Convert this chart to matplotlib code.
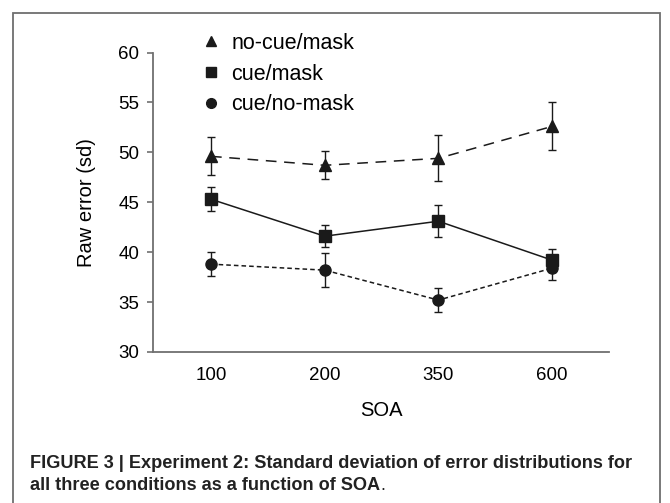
import matplotlib
matplotlib.use("Agg")
import matplotlib.pyplot as plt
from matplotlib.lines import Line2D
from matplotlib.patches import Rectangle

# ---- data ----
soa_labels = ["100", "200", "350", "600"]
nocue_mask = [49.6, 48.7, 49.4, 52.6]
nocue_mask_err = [1.9, 1.4, 2.3, 2.4]
cue_mask = [45.3, 41.6, 43.1, 39.2]
cue_mask_err = [1.2, 1.1, 1.6, 1.15]
cue_nomask = [38.8, 38.2, 35.2, 38.4]
cue_nomask_err = [1.2, 1.7, 1.2, 1.15]
series_names = ["no-cue/mask", "cue/mask", "cue/no-mask"]

plt.rcParams['font.family'] = ['Liberation Sans', 'DejaVu Sans']

W, H = 670, 503
fig = plt.figure(figsize=(W/100, H/100), dpi=100)
ax = fig.add_axes([153/W, 1-352/H, (609-153)/W, (352-52.5)/H])

x = list(range(len(soa_labels)))
col = '#1a1a1a'
styles = [
    (nocue_mask, nocue_mask_err, '^', (0, (7, 5))),
    (cue_mask, cue_mask_err, 's', '-'),
    (cue_nomask, cue_nomask_err, 'o', (0, (3, 2))),
]
handles = []
for (vals, errs, mk, ls), name in zip(styles, series_names):
    ax.errorbar(x, vals, yerr=errs, fmt=mk, linestyle=ls, color=col,
                markersize=8, linewidth=1.1, elinewidth=1.0,
                capsize=3, capthick=1.0)
    handles.append(Line2D([], [], marker=mk, linestyle='none', color=col,
                          markersize=7, label=name))

ax.set_xlim(-0.51, 3.5)
ax.set_ylim(30, 60)
ax.set_yticks(range(30, 61, 5))
ax.set_xticks(x)
ax.set_xticklabels(soa_labels)
for s in ['top', 'right']:
    ax.spines[s].set_visible(False)
for s in ['left', 'bottom']:
    ax.spines[s].set_color('#707070')
    ax.spines[s].set_linewidth(1.3)
ax.tick_params(axis='y', length=4, width=1.2, color='#707070', labelsize=13.5, pad=6)
ax.tick_params(axis='x', length=0, labelsize=13.5, pad=11)

ax.set_ylabel("Raw error (sd)", fontsize=14.5)
ax.yaxis.set_label_coords(-0.125, 0.5)
ax.set_xlabel("SOA", fontsize=14.5)
ax.xaxis.set_label_coords(0.5, -0.165)

leg = ax.legend(handles=handles, loc='upper left', frameon=False,
                bbox_to_anchor=(201/W, 1-33/H), bbox_transform=fig.transFigure,
                fontsize=15.5, handlelength=0.9, handletextpad=0.5,
                labelspacing=0.45, borderpad=0, borderaxespad=0)

# border box
fig.add_artist(Rectangle((13/W, -0.1), (660-13)/W, (1-12.7/H)+0.1,
                         transform=fig.transFigure, fill=False,
                         edgecolor='#6e6e6e', linewidth=1.3))

cap_font = ['Liberation Sans Narrow', 'Liberation Sans', 'DejaVu Sans']
fig.text(30/W, 1-463/H, "FIGURE 3 | Experiment 2: Standard deviation of error distributions for",
         fontsize=13.1, fontweight='bold', family=cap_font, va='center', ha='left',
         color='#222222')
t2 = fig.text(30/W, 1-485/H, "all three conditions as a function of SOA",
              fontsize=13.1, fontweight='bold', family=cap_font, va='center', ha='left',
              color='#222222')
ax.annotate(".", xy=(1, 0), xycoords=t2, xytext=(0.5, 0), textcoords='offset points',
            fontsize=13.1, family=cap_font, color='#222222', ha='left', va='bottom',
            annotation_clip=False)

fig.savefig("out.png", dpi=100)
